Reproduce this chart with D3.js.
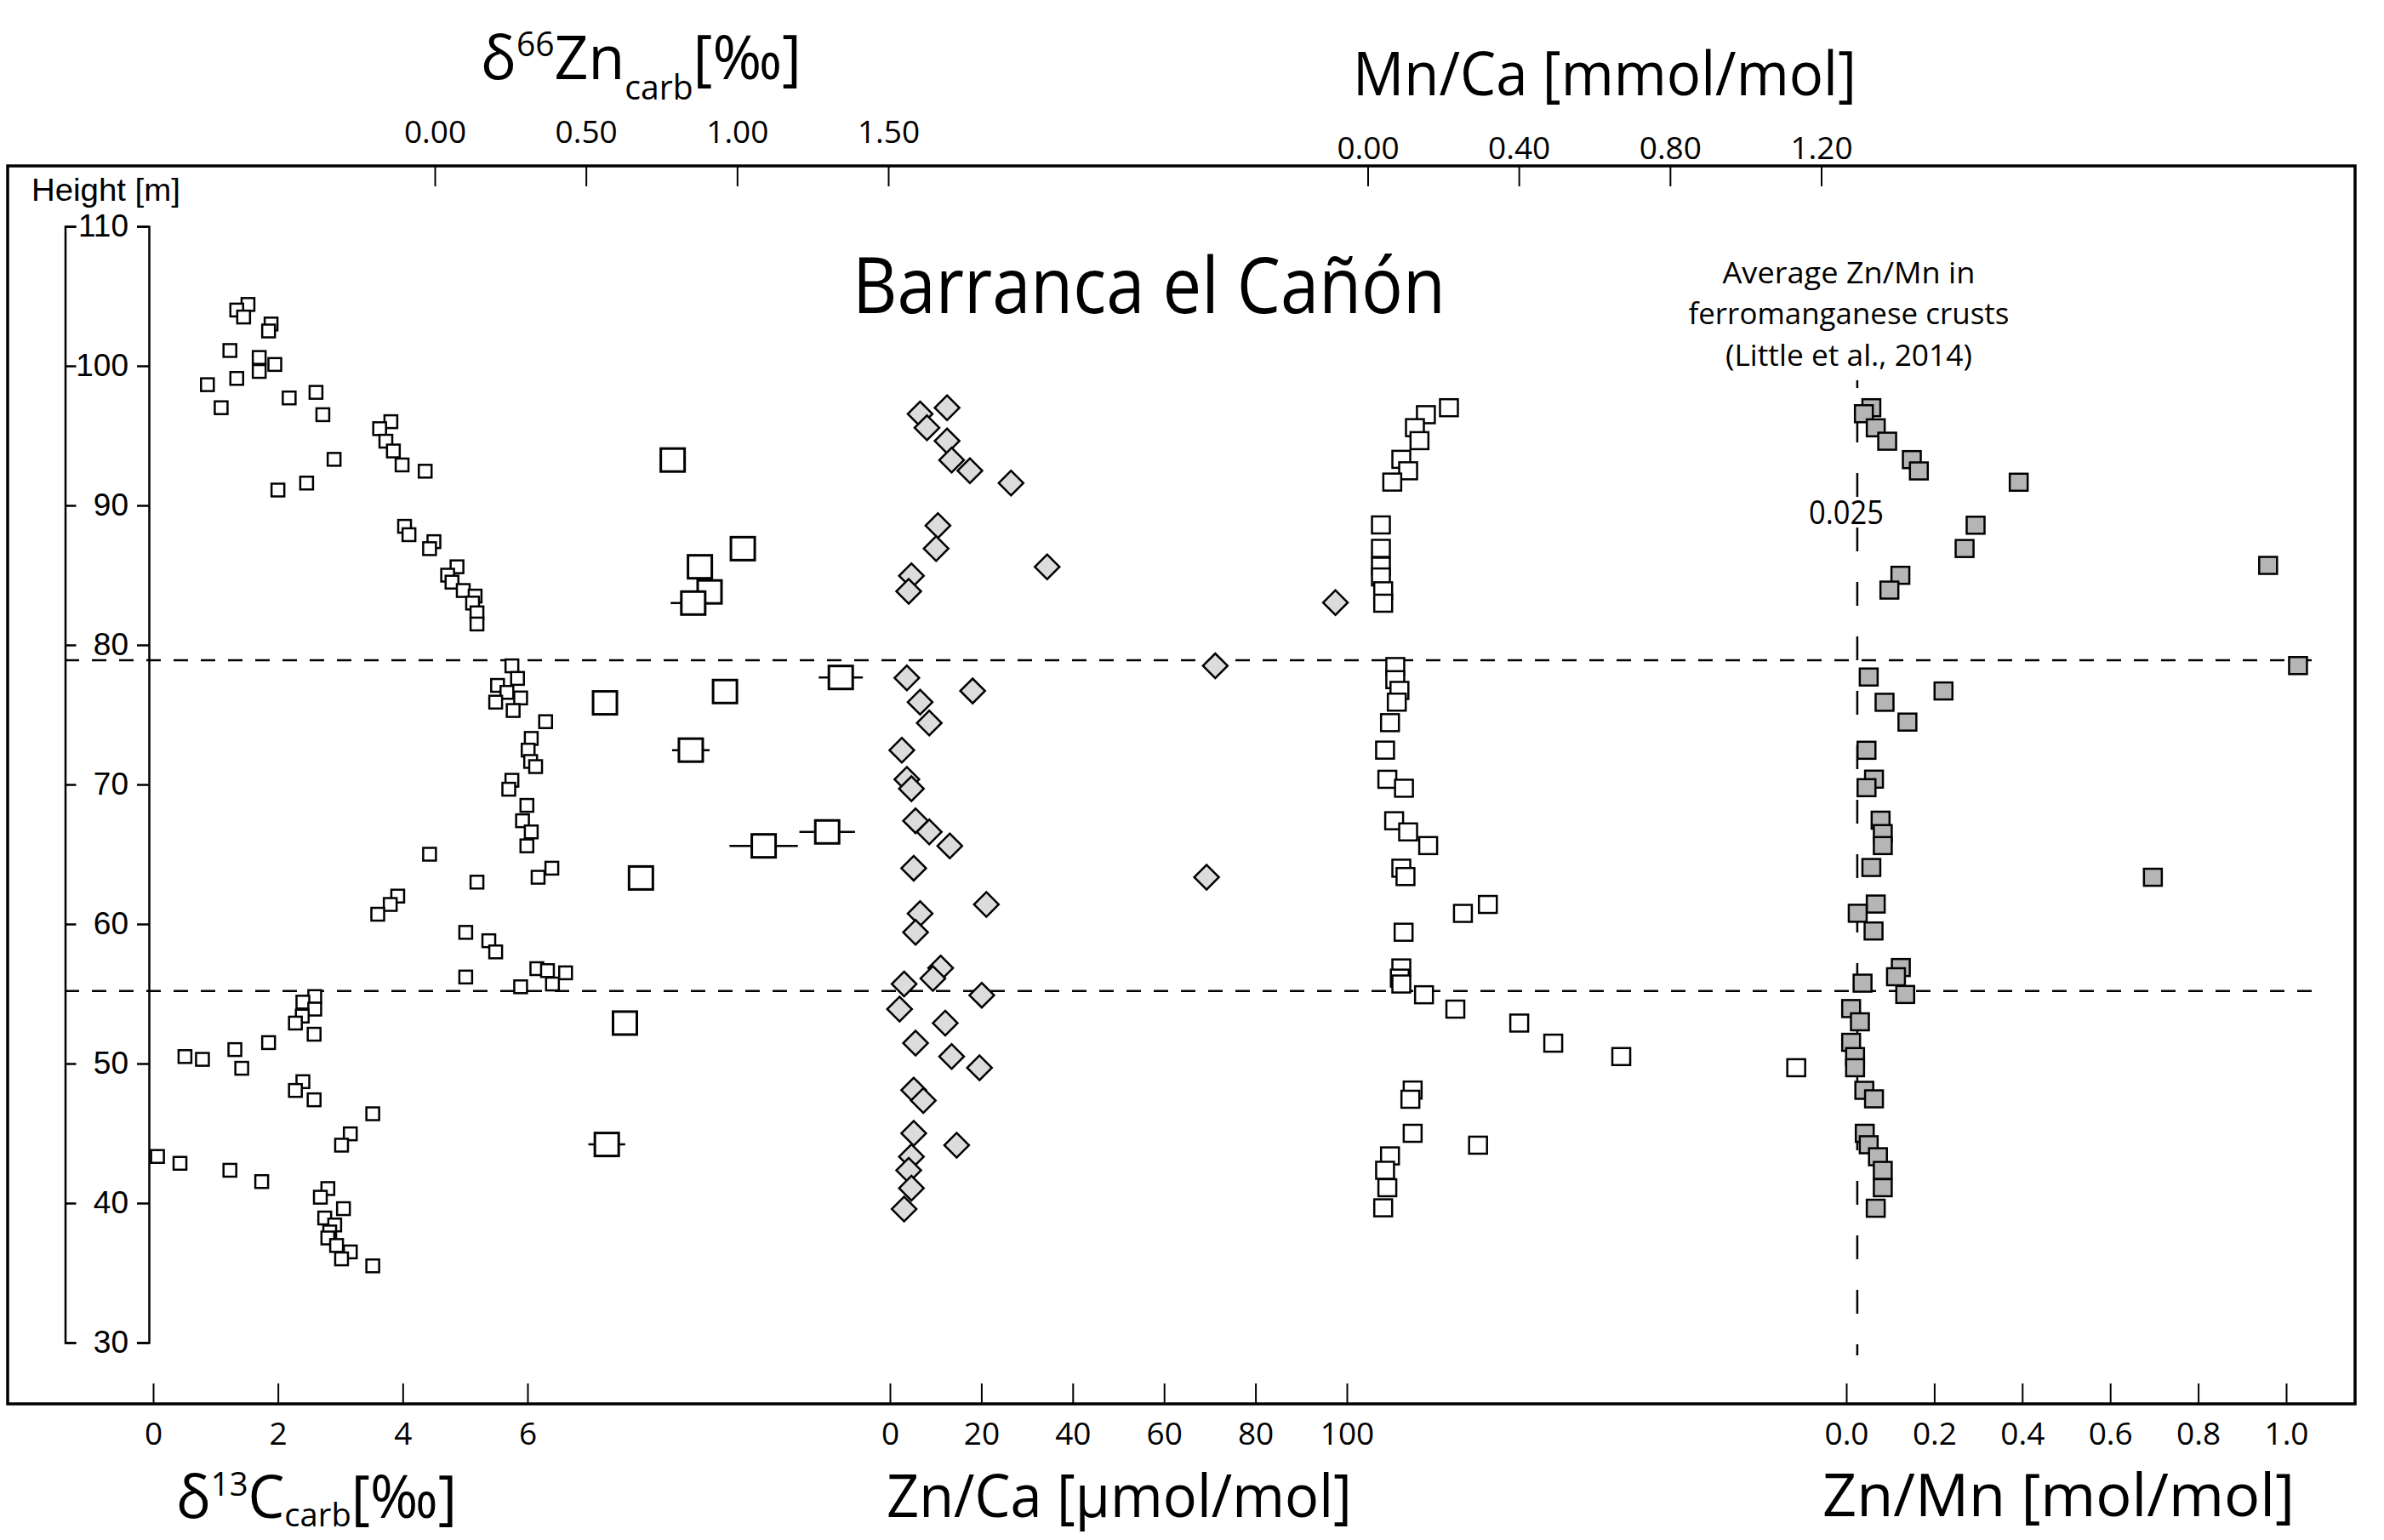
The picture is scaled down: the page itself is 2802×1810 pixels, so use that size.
<!DOCTYPE html>
<html>
<head>
<meta charset="utf-8">
<script src="https://d3js.org/d3.v7.min.js"></script>
<style>
body { margin: 0; background: #fff; }
svg { display: block; }
</style>
</head>
<body>
<div class="Aligner"></div>
<script>
var width = 2802, height = 1810;

// every series: [height in m, value]
var d13cData = [
  [104.4,1.52],[104.0,1.34],[103.5,1.45],[103.0,1.89],[102.5,1.85],[101.1,1.23],[100.6,1.70],[100.1,1.95],
  [99.6,1.70],[99.1,1.34],[98.65,0.87],[97.0,1.09],[97.7,2.18],[98.1,2.61],[96.5,2.72],[96.0,3.81],
  [95.5,3.63],[94.6,3.73],[93.9,3.85],[92.9,3.99],[92.45,4.36],[93.3,2.90],[91.6,2.46],[91.1,2.00],
  [88.5,4.03],[87.9,4.10],[87.4,4.50],[86.9,4.43],[85.6,4.87],[85.0,4.72],[84.5,4.79],[83.9,4.97],
  [83.5,5.16],[83.0,5.12],[82.3,5.19],[81.5,5.19],[78.5,5.75],[77.6,5.84],[77.1,5.52],[76.6,5.67],
  [76.2,5.89],[75.9,5.49],[75.3,5.77],[74.5,6.29],[73.3,6.06],[72.46,6.01],[71.65,6.05],[71.28,6.13],
  [70.3,5.75],[69.66,5.70],[68.5,5.99],[67.4,5.92],[66.6,6.06],[65.6,5.99],[65.0,4.43],[64.0,6.39],
  [63.35,6.17],[63.0,5.19],[62.0,3.92],[61.4,3.80],[60.7,3.60],[59.4,5.01],[58.8,5.38],[58.0,5.49],
  [56.2,5.01],[56.8,6.15],[56.66,6.32],[56.5,6.61],[55.7,6.40],[55.5,5.89],[54.8,2.59],[54.4,2.40],
  [53.9,2.59],[53.4,2.39],[52.9,2.28],[52.1,2.58],[51.5,1.85],[51.0,1.31],[50.5,0.51],[50.3,0.79],
  [49.66,1.42],[48.7,2.40],[48.07,2.28],[47.4,2.58],[46.4,3.52],[44.96,3.16],[44.15,3.02],[43.34,0.07],
  [42.85,0.43],[42.35,1.23],[41.54,1.74],[41.04,2.80],[40.42,2.68],[39.6,3.05],[38.93,2.75],[38.43,2.91],
  [37.93,2.83],[37.5,2.80],[36.96,2.94],[36.5,3.16],[36.0,3.02],[35.5,3.52]
];

var zn66Data = [
  [93.25,0.787],[86.9,1.019],[85.6,0.877],[83.8,0.909],[83.0,0.855],[77.67,1.343],[76.66,0.96],
  [75.85,0.563],[72.46,0.847],[65.6,1.088],[66.6,1.298],[63.3,0.682],[52.9,0.629],[44.2,0.569]
];
var zn66Err = [0,0,0,0.042,0.075,0.073,0,0,0.062,0.113,0.092,0,0,0.061];

var znCaData = [
  [96.55,6.6],[97.0,12.5],[95.56,8.1],[94.62,12.5],[93.25,13.5],[92.48,17.5],[91.6,26.5],[88.55,10.5],
  [86.9,10.1],[85.6,34.4],[84.95,4.7],[83.84,4.1],[83.03,97.5],[78.5,71.2],[77.64,3.7],[76.7,18.1],
  [75.9,6.6],[74.4,8.6],[72.46,2.6],[70.37,3.7],[69.7,4.7],[67.4,5.6],[66.6,8.6],[65.6,13.1],
  [64.0,5.2],[63.35,69.3],[61.4,21.1],[60.75,6.6],[59.4,5.6],[56.85,11.1],[56.1,9.4],[55.7,3.1],
  [54.9,20.1],[53.9,2.1],[52.9,12.1],[51.46,5.6],[50.5,13.5],[49.7,19.6],[48.1,5.2],[47.35,7.3],
  [45.0,5.2],[44.15,14.6],[43.33,4.7],[42.35,4.1],[41.07,4.7],[39.57,3.1]
];

var mnCaData = [
  [97.0,0.215],[96.5,0.154],[95.57,0.125],[94.64,0.137],[93.3,0.089],[92.48,0.107],[91.67,0.065],
  [88.6,0.035],[86.92,0.035],[85.64,0.035],[84.87,0.035],[83.88,0.041],[82.99,0.041],[78.45,0.073],
  [77.51,0.073],[76.74,0.084],[75.9,0.077],[74.43,0.059],[72.46,0.046],[70.37,0.052],[69.73,0.096],
  [67.4,0.070],[66.6,0.107],[65.62,0.160],[64.0,0.089],[63.4,0.100],[61.4,0.318],[60.76,0.252],
  [59.41,0.095],[56.85,0.089],[56.12,0.085],[55.7,0.089],[54.93,0.149],[53.9,0.232],[52.9,0.401],
  [51.46,0.491],[50.5,0.671],[49.7,1.134],[48.1,0.119],[47.44,0.113],[45.0,0.119],[44.15,0.292],
  [43.38,0.059],[42.35,0.046],[41.1,0.052],[39.66,0.041]
];

var znMnData = [
  [97.0,0.057],[96.57,0.040],[95.56,0.067],[94.6,0.093],[93.28,0.149],[92.47,0.165],[91.66,0.392],
  [88.58,0.294],[86.91,0.269],[85.7,0.959],[84.99,0.123],[83.93,0.098],[78.52,1.027],[77.7,0.051],
  [76.7,0.221],[75.89,0.087],[74.47,0.139],[72.45,0.046],[70.38,0.063],[69.77,0.046],[67.44,0.078],
  [66.48,0.083],[65.62,0.083],[64.05,0.057],[63.35,0.697],[61.43,0.067],[60.77,0.026],[59.5,0.062],
  [56.88,0.124],[56.22,0.113],[55.76,0.037],[54.95,0.134],[53.94,0.011],[52.99,0.031],[51.52,0.011],
  [50.5,0.020],[49.7,0.020],[48.08,0.041],[47.47,0.063],[45.0,0.042],[44.18,0.051],[43.32,0.072],
  [42.34,0.083],[41.1,0.083],[39.63,0.067]
];

var heightTicks = [30,40,50,60,70,80,90,100,110];
var d13cTicks = [0,2,4,6];
var zn66Ticks = [0,0.5,1.0,1.5];
var znCaTicks = [0,20,40,60,80,100];
var mnCaTicks = [0,0.4,0.8,1.2];
var znMnTicks = [0,0.2,0.4,0.6,0.8,1.0];
var boundaryHeights = [78.9, 55.2];
var avgZnMn = 0.025;
var noteLines = ["Average Zn/Mn in", "ferromanganese crusts", "(Little et al., 2014)"];

var frame = {left: 9, top: 195, right: 2768, bottom: 1650};
var myriad = "'Open Sans', 'Noto Sans', sans-serif";
var arial = "'Liberation Sans', Arial, sans-serif";

(function(){

  var svg = d3.select(".Aligner")
    .append("svg")
    .attr("width", width)
    .attr("height", height);

  svg.append("rect")
    .attr("width", width)
    .attr("height", height)
    .attr("fill", "white");

  var y = d3.scaleLinear().domain([30, 110]).range([1578, 266]);
  var xD13c = d3.scaleLinear().domain([0, 6]).range([180, 620]);
  var xZn66 = d3.scaleLinear().domain([0, 1.5]).range([511, 1044]);
  var xZnCa = d3.scaleLinear().domain([0, 100]).range([1046, 1583]);
  var xMnCa = d3.scaleLinear().domain([0, 1.2]).range([1607.5, 2140.5]);
  var xZnMn = d3.scaleLinear().domain([0, 1]).range([2170, 2687]);

  // squeeze text to the width it has in the figure (Myriad is narrower)
  function fitText(g, left, targetW){
    var bb = g.node().getBBox();
    var s = targetW / bb.width;
    g.attr("transform", "translate(" + (left - bb.x * s) + ",0) scale(" + s + ",1)");
  }

  // frame
  svg.append("rect")
    .attr("x", frame.left)
    .attr("y", frame.top)
    .attr("width", frame.right - frame.left)
    .attr("height", frame.bottom - frame.top)
    .attr("fill", "none")
    .attr("stroke", "black")
    .attr("stroke-width", 3.5);

  function styleAxis(g){
    g.select(".domain").remove();
    g.selectAll(".tick line").attr("stroke", "black").attr("stroke-width", 2);
    g.selectAll(".tick text")
      .attr("font-family", myriad)
      .attr("font-size", 37)
      .attr("fill", "black");
  }

  function bottomAxis(scale, ticks, fmt){
    svg.append("g")
      .attr("transform", "translate(0," + frame.bottom + ")")
      .call(d3.axisBottom(scale).tickValues(ticks).tickFormat(fmt).tickSize(-24).tickPadding(22))
      .call(styleAxis);
  }

  function topAxis(scale, ticks, fmt, pad){
    svg.append("g")
      .attr("transform", "translate(0," + frame.top + ")")
      .call(d3.axisTop(scale).tickValues(ticks).tickFormat(fmt).tickSize(-24).tickPadding(pad))
      .call(styleAxis);
  }

  bottomAxis(xD13c, d13cTicks, d3.format("d"));
  bottomAxis(xZnCa, znCaTicks, d3.format("d"));
  bottomAxis(xZnMn, znMnTicks, d3.format(".1f"));
  topAxis(xZn66, zn66Ticks, d3.format(".2f"), 27);
  topAxis(xMnCa, mnCaTicks, d3.format(".2f"), 8);

  // height axis: bracket line + labelled line
  var hAxis = svg.append("g")
    .attr("transform", "translate(175,0)")
    .call(d3.axisLeft(y).tickValues(heightTicks).tickSize(14).tickPadding(10));
  hAxis.select(".domain").attr("stroke", "black").attr("stroke-width", 2.5);
  hAxis.selectAll(".tick line").attr("stroke", "black").attr("stroke-width", 2.5);
  hAxis.selectAll(".tick text").attr("font-family", arial).attr("font-size", 37).attr("fill", "black");

  var bracket = svg.append("g")
    .attr("transform", "translate(76.5,0)")
    .call(d3.axisRight(y).tickValues(heightTicks).tickSize(13).tickFormat(""));
  bracket.select(".domain").attr("stroke", "black").attr("stroke-width", 2.5);
  bracket.selectAll(".tick line").attr("stroke", "black").attr("stroke-width", 2.5);

  var hLabel = svg.append("g");
  hLabel.append("text")
    .attr("y", 236)
    .attr("font-family", arial)
    .attr("font-size", 37)
    .text("Height [m]");
  fitText(hLabel, 37, 175);

  // boundary lines
  svg.selectAll(".boundary")
    .data(boundaryHeights)
    .enter().append("line")
    .attr("class", "boundary")
    .attr("x1", 76)
    .attr("x2", 2730)
    .attr("y1", function(d){ return y(d) })
    .attr("y2", function(d){ return y(d) })
    .attr("stroke", "black")
    .attr("stroke-width", 2.5)
    .attr("stroke-dasharray", "17,15");

  // average Zn/Mn of Fe-Mn crusts
  svg.append("line")
    .attr("x1", xZnMn(avgZnMn))
    .attr("x2", xZnMn(avgZnMn))
    .attr("y1", 447)
    .attr("y2", 1593)
    .attr("stroke", "black")
    .attr("stroke-width", 2.5)
    .attr("stroke-dasharray", "28,36")
    .attr("stroke-dashoffset", 19);

  // d13C carb
  svg.selectAll(".d13c")
    .data(d13cData)
    .enter().append("rect")
    .attr("class", "d13c")
    .attr("x", function(d){ return xD13c(d[1]) - 7.5 })
    .attr("y", function(d){ return y(d[0]) - 7.5 })
    .attr("width", 15)
    .attr("height", 15)
    .attr("fill", "white")
    .attr("stroke", "black")
    .attr("stroke-width", 2.5);

  // d66Zn carb with error bars
  svg.selectAll(".zn66err")
    .data(zn66Data.filter(function(d, i){ return zn66Err[i] > 0 }).map(function(d){
      return [d[0], d[1], zn66Err[zn66Data.indexOf(d)]];
    }))
    .enter().append("line")
    .attr("class", "zn66err")
    .attr("x1", function(d){ return xZn66(d[1] - d[2]) })
    .attr("x2", function(d){ return xZn66(d[1] + d[2]) })
    .attr("y1", function(d){ return y(d[0]) })
    .attr("y2", function(d){ return y(d[0]) })
    .attr("stroke", "black")
    .attr("stroke-width", 2.5);

  svg.selectAll(".zn66")
    .data(zn66Data)
    .enter().append("rect")
    .attr("class", "zn66")
    .attr("x", function(d){ return xZn66(d[1]) - 14 })
    .attr("y", function(d){ return y(d[0]) - 13.5 })
    .attr("width", 28)
    .attr("height", 27)
    .attr("fill", "white")
    .attr("stroke", "black")
    .attr("stroke-width", 3);

  // Zn/Ca diamonds
  var diamond = d3.symbol().type(d3.symbolSquare).size(420);
  svg.selectAll(".znca")
    .data(znCaData)
    .enter().append("path")
    .attr("class", "znca")
    .attr("d", diamond)
    .attr("transform", function(d){
      return "translate(" + xZnCa(d[1]) + "," + y(d[0]) + ") rotate(45)"
    })
    .attr("fill", "#dcdcdc")
    .attr("stroke", "black")
    .attr("stroke-width", 2.5);

  // Mn/Ca
  svg.selectAll(".mnca")
    .data(mnCaData)
    .enter().append("rect")
    .attr("class", "mnca")
    .attr("x", function(d){ return xMnCa(d[1]) - 10.5 })
    .attr("y", function(d){ return y(d[0]) - 10 })
    .attr("width", 21)
    .attr("height", 20)
    .attr("fill", "white")
    .attr("stroke", "black")
    .attr("stroke-width", 2.5);

  // Zn/Mn
  svg.selectAll(".znmn")
    .data(znMnData)
    .enter().append("rect")
    .attr("class", "znmn")
    .attr("x", function(d){ return xZnMn(d[1]) - 10.5 })
    .attr("y", function(d){ return y(d[0]) - 10 })
    .attr("width", 21)
    .attr("height", 20)
    .attr("fill", "#b5b5b5")
    .attr("stroke", "black")
    .attr("stroke-width", 2.5);

  // titles
  var title = svg.append("g");
  title.append("text")
    .attr("y", 368)
    .attr("font-family", myriad)
    .attr("font-size", 92)
    .text("Barranca el Cañón");
  fitText(title, 1002, 697);

  function isoTitle(left, w, base, size, sym, iso, el, sub){
    var g = svg.append("g");
    var t = g.append("text")
      .attr("y", base)
      .attr("font-family", myriad)
      .attr("font-size", size);
    t.append("tspan").text(sym);
    t.append("tspan").attr("font-size", size * 0.56).attr("dy", -size * 0.37).text(iso);
    t.append("tspan").attr("dy", size * 0.37).text(el);
    t.append("tspan").attr("font-size", size * 0.56).attr("dy", sub).text("carb");
    t.append("tspan").attr("dy", -sub).text("[‰]");
    fitText(g, left, w);
  }
  isoTitle(565, 377, 93, 72, "δ", "66", "Zn", 24);
  isoTitle(207, 330, 1784, 70, "δ", "13", "C", 10);

  function plainTitle(txt, left, w, base, size){
    var g = svg.append("g");
    g.append("text")
      .attr("y", base)
      .attr("font-family", myriad)
      .attr("font-size", size)
      .text(txt);
    fitText(g, left, w);
  }
  plainTitle("Mn/Ca [mmol/mol]", 1590, 592, 112, 72);
  plainTitle("Zn/Ca [μmol/mol]", 1042, 547, 1783, 70);
  plainTitle("Zn/Mn [mol/mol]", 2142, 555, 1782, 70);

  // note on Fe-Mn crusts
  var noteW = [297, 377, 290];
  noteLines.forEach(function(line, i){
    plainTitle(line, 2173 - noteW[i] / 2, noteW[i], 333 + i * 48.5, 35);
  });
  plainTitle(String(avgZnMn), 2126, 88, 616, 38);

})();
</script>
</body>
</html>
